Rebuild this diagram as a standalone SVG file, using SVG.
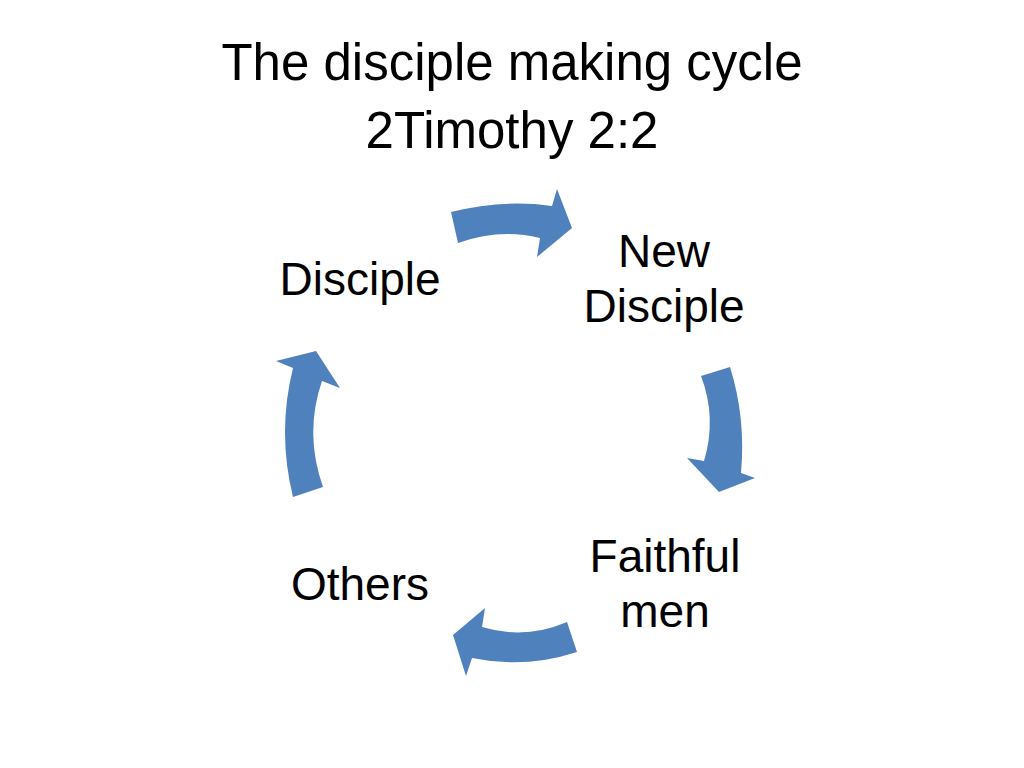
<svg xmlns="http://www.w3.org/2000/svg" width="1024" height="768" viewBox="0 0 1024 768">
<style>
.t{font-family:"Liberation Sans",Arial,sans-serif;fill:#000;text-anchor:middle}
.title{font-size:51px}
.lbl{font-size:46px}
.arr{fill:#4F81BD;stroke:none}
</style>
<rect width="1024" height="768" fill="#fff"/>
<g id="title">
<text class="t title" x="512" y="80">The disciple making cycle</text>
<text class="t title" x="512" y="148">2Timothy 2:2</text>
</g>
<g id="node-disciple"><text class="t lbl" x="360" y="295">Disciple</text></g>
<g id="node-new-disciple"><text class="t lbl" x="664" y="267">New</text><text class="t lbl" x="664" y="322">Disciple</text></g>
<g id="node-faithful-men"><text class="t lbl" x="665" y="572">Faithful</text><text class="t lbl" x="665" y="627">men</text></g>
<g id="node-others"><text class="t lbl" x="360" y="600">Others</text></g>
<g id="connectors">
<path class="arr" d="M451,212 Q503,199 552,206 L557,189 L572,228 L537,257 L540,238 Q500,228 458,243 Z"/>
<path class="arr" d="M730,367 Q746,418 741,473 L755,478 L719,492 L687,458 L704,461 Q717,418 701,376 Z"/>
<path class="arr" d="M577,652 Q525,669 472,658 L466,676 L453,635 L485,608 L482,627 Q525,640 567,622 Z"/>
<path class="arr" d="M293,497 Q277,432 293,368 L276,361 L316,351 L340,388 L322,381 Q304,433 323,487 Z"/>
</g>
</svg>
